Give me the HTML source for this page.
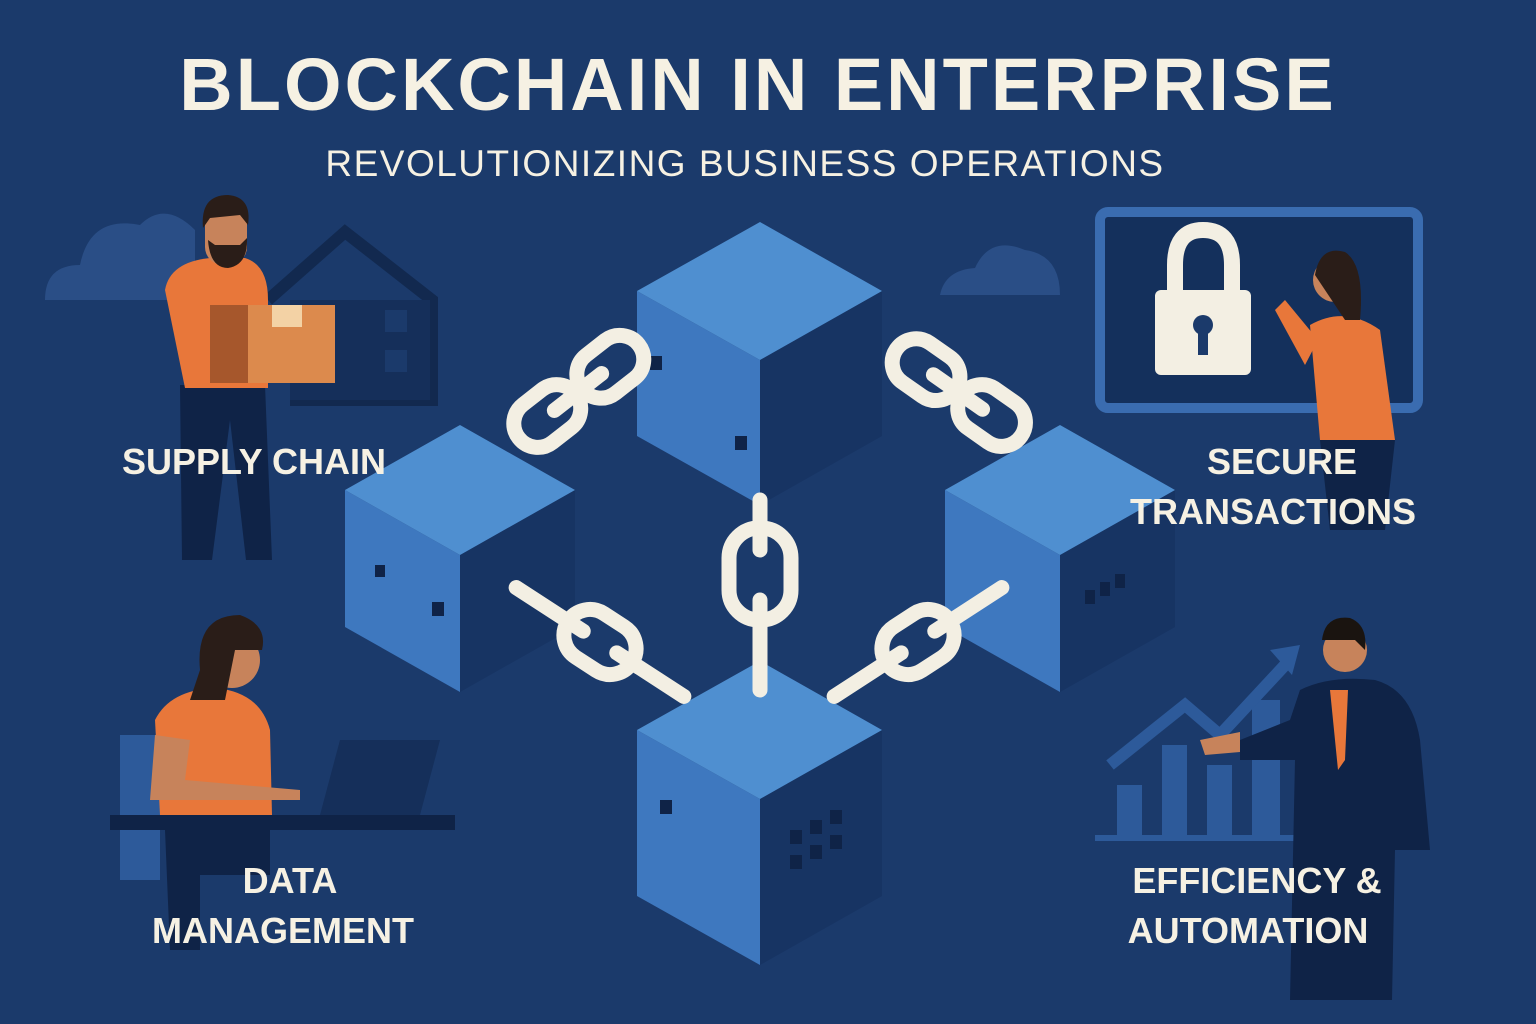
<!DOCTYPE html>
<html><head><meta charset="utf-8"><style>
html,body{margin:0;padding:0;background:#1b3a6b;}
svg{display:block}
text{font-family:"Liberation Sans","DejaVu Sans",sans-serif;font-weight:bold;fill:#f6f1e3;text-anchor:middle}
</style></head><body>
<svg width="1536" height="1024" viewBox="0 0 1536 1024" xmlns="http://www.w3.org/2000/svg">
<rect width="1536" height="1024" fill="#1b3a6b"/>
<g fill="#2a4e86">
<path d="M45 300 Q45 265 80 265 Q90 215 140 225 Q165 200 195 230 L195 300 Z"/>
<path d="M940 295 Q945 270 975 268 Q990 235 1025 250 Q1060 255 1060 295 Z"/>
</g>
<g fill="none" stroke="#12294f" stroke-width="12">
<path d="M268 300 L345 232 L432 300 L432 400 L290 400"/>
</g>
<rect x="290" y="300" width="140" height="100" fill="#152f5a"/>
<rect x="385" y="310" width="22" height="22" fill="#1b3a6b"/><rect x="385" y="350" width="22" height="22" fill="#1b3a6b"/>
<!-- man supply chain -->
<path d="M180 385 L265 385 L272 560 L246 560 L230 420 L212 560 L182 560 Z" fill="#0f2347"/>
<path d="M165 290 Q170 262 210 258 L245 258 Q268 265 268 300 L268 388 L185 388 Z" fill="#e8773a"/>
<rect x="205" y="205" width="42" height="60" rx="18" fill="#c7835b"/>
<path d="M203 228 Q200 195 228 195 Q252 197 248 225 L240 215 L210 218 Z" fill="#2a1d18"/>
<path d="M208 240 Q210 268 228 268 Q248 265 247 238 L240 245 L215 245 Z" fill="#2a1d18"/>
<rect x="210" y="305" width="125" height="78" fill="#dc8a4d"/><rect x="210" y="305" width="38" height="78" fill="#a6572c"/><rect x="272" y="305" width="30" height="22" fill="#f3d2a5"/>
<!-- monitor lock -->
<rect x="1100" y="212" width="318" height="196" rx="8" fill="#14305c" stroke="#3a6cb0" stroke-width="10"/>
<path d="M1175 295 L1175 265 Q1175 230 1203 230 Q1232 230 1232 265 L1232 295" fill="none" stroke="#f3efe3" stroke-width="16"/>
<rect x="1155" y="290" width="96" height="85" rx="6" fill="#f3efe3"/>
<circle cx="1203" cy="325" r="10" fill="#1b3a6b"/><rect x="1198" y="325" width="10" height="30" fill="#1b3a6b"/>
<path d="M1310 325 Q1345 305 1380 330 L1395 440 L1320 440 Z" fill="#e8773a"/>
<path d="M1318 340 L1285 300 L1275 310 L1305 365 Z" fill="#e8773a"/>
<circle cx="1335" cy="280" r="22" fill="#c7835b"/>
<path d="M1315 275 Q1320 245 1345 252 Q1365 265 1360 320 L1345 320 Z" fill="#2a1d18"/>
<path d="M1320 440 L1395 440 L1385 530 L1330 530 Z" fill="#0f2347"/>
<!-- woman left bottom -->
<path d="M120 735 L160 735 L160 880 L120 880 Z" fill="#2d5a9a"/>
<path d="M155 720 Q170 690 215 688 Q260 692 270 730 L272 815 L160 815 Z" fill="#e8773a"/>
<path d="M155 735 L150 800 L300 800 L300 790 L185 780 L190 740 Z" fill="#c7835b"/>
<circle cx="232" cy="660" r="28" fill="#c7835b"/>
<path d="M200 670 Q195 615 240 615 Q268 625 262 650 L235 650 L225 700 L190 700 Z" fill="#2a1d18"/>
<path d="M340 740 L440 740 L420 815 L320 815 Z" fill="#152f5a"/>
<rect x="110" y="815" width="345" height="15" fill="#0f2347"/>
<path d="M165 830 L270 830 L270 875 L200 875 L200 950 L170 950 Z" fill="#0f2347"/>
<!-- businessman & chart -->
<g fill="#2d5a9a"><rect x="1117" y="785" width="25" height="52"/><rect x="1162" y="745" width="25" height="92"/><rect x="1207" y="765" width="25" height="72"/><rect x="1252" y="700" width="28" height="137"/></g>
<rect x="1095" y="835" width="200" height="6" fill="#2d5a9a"/>
<path d="M1110 765 L1185 705 L1220 735 L1285 665" fill="none" stroke="#2d5a9a" stroke-width="12"/>
<path d="M1270 650 L1300 645 L1292 675 Z" fill="#2d5a9a"/>
<path d="M1300 690 Q1330 675 1375 680 Q1412 690 1420 740 L1430 850 L1395 850 L1392 1000 L1290 1000 L1295 760 L1240 760 L1240 740 L1290 720 Z" fill="#0f2347"/>
<path d="M1330 690 L1348 690 L1345 760 L1338 770 Z" fill="#e8773a"/>
<circle cx="1345" cy="650" r="22" fill="#c7835b"/>
<path d="M1322 640 Q1325 615 1350 618 Q1368 625 1365 650 L1355 640 Z" fill="#1a1410"/>
<path d="M1200 740 L1240 732 L1240 752 L1205 755 Z" fill="#c7835b"/>
<!-- cubes -->
<g><polygon points="637,291 760,360 760,505 637,436" fill="#3e78bf"/><polygon points="760,360 882,291 882,436 760,505" fill="#173463"/><polygon points="760,222 882,291 760,360 637,291" fill="#4f8fd0"/></g>
<g><polygon points="345,490 460,555 460,692 345,627" fill="#3e78bf"/><polygon points="460,555 575,490 575,627 460,692" fill="#173463"/><polygon points="460,425 575,490 460,555 345,490" fill="#4f8fd0"/></g>
<g><polygon points="945,490 1060,555 1060,692 945,627" fill="#3e78bf"/><polygon points="1060,555 1175,490 1175,627 1060,692" fill="#173463"/><polygon points="1060,425 1175,490 1060,555 945,490" fill="#4f8fd0"/></g>
<g><polygon points="637,730 760,799 760,965 637,896" fill="#3e78bf"/><polygon points="760,799 882,730 882,896 760,965" fill="#173463"/><polygon points="760,661 882,730 760,799 637,730" fill="#4f8fd0"/></g>
<g fill="#0f2347"><rect x="650" y="356" width="12" height="14"/><rect x="735" y="436" width="12" height="14"/><rect x="432" y="602" width="12" height="14"/><rect x="375" y="565" width="10" height="12"/>
<rect x="1085" y="590" width="10" height="14"/><rect x="1100" y="582" width="10" height="14"/><rect x="1115" y="574" width="10" height="14"/>
<rect x="790" y="830" width="12" height="14"/><rect x="810" y="820" width="12" height="14"/><rect x="830" y="810" width="12" height="14"/><rect x="790" y="855" width="12" height="14"/><rect x="810" y="845" width="12" height="14"/><rect x="830" y="835" width="12" height="14"/><rect x="660" y="800" width="12" height="14"/></g>
<!-- chains (over cubes) -->
<g fill="none" stroke="#f3efe3" stroke-width="15" stroke-linecap="round">
<g transform="translate(578,392) rotate(-38)"><rect x="-75" y="-24" width="72" height="48" rx="24"/><rect x="5" y="-24" width="72" height="48" rx="24"/><line x1="-30" y1="0" x2="30" y2="0"/></g>
<g transform="translate(958,392) rotate(35)"><rect x="-75" y="-24" width="72" height="48" rx="24"/><rect x="5" y="-24" width="72" height="48" rx="24"/><line x1="-30" y1="0" x2="30" y2="0"/></g>
<g transform="translate(600,642) rotate(33)"><rect x="-38" y="-26" width="76" height="52" rx="26"/><line x1="-100" y1="0" x2="-20" y2="0"/><line x1="20" y1="0" x2="100" y2="0"/></g>
<g transform="translate(918,642) rotate(-33)"><rect x="-38" y="-26" width="76" height="52" rx="26"/><line x1="-100" y1="0" x2="-20" y2="0"/><line x1="20" y1="0" x2="100" y2="0"/></g>
<rect x="729" y="528" width="62" height="92" rx="30"/>
<line x1="760" y1="500" x2="760" y2="550"/><line x1="760" y1="600" x2="760" y2="690"/>
</g>
<!-- text -->
<text x="758" y="110" font-size="74" letter-spacing="3">BLOCKCHAIN IN ENTERPRISE</text>
<text x="745" y="176" font-size="37" letter-spacing="1.5" style="font-weight:normal">REVOLUTIONIZING BUSINESS OPERATIONS</text>
<text x="254" y="474" font-size="36">SUPPLY CHAIN</text>
<text x="1282" y="474" font-size="36">SECURE</text>
<text x="1273" y="524" font-size="36">TRANSACTIONS</text>
<text x="290" y="893" font-size="36">DATA</text>
<text x="283" y="943" font-size="36">MANAGEMENT</text>
<text x="1257" y="893" font-size="36">EFFICIENCY &amp;</text>
<text x="1248" y="943" font-size="36">AUTOMATION</text>
</svg>
</body></html>
